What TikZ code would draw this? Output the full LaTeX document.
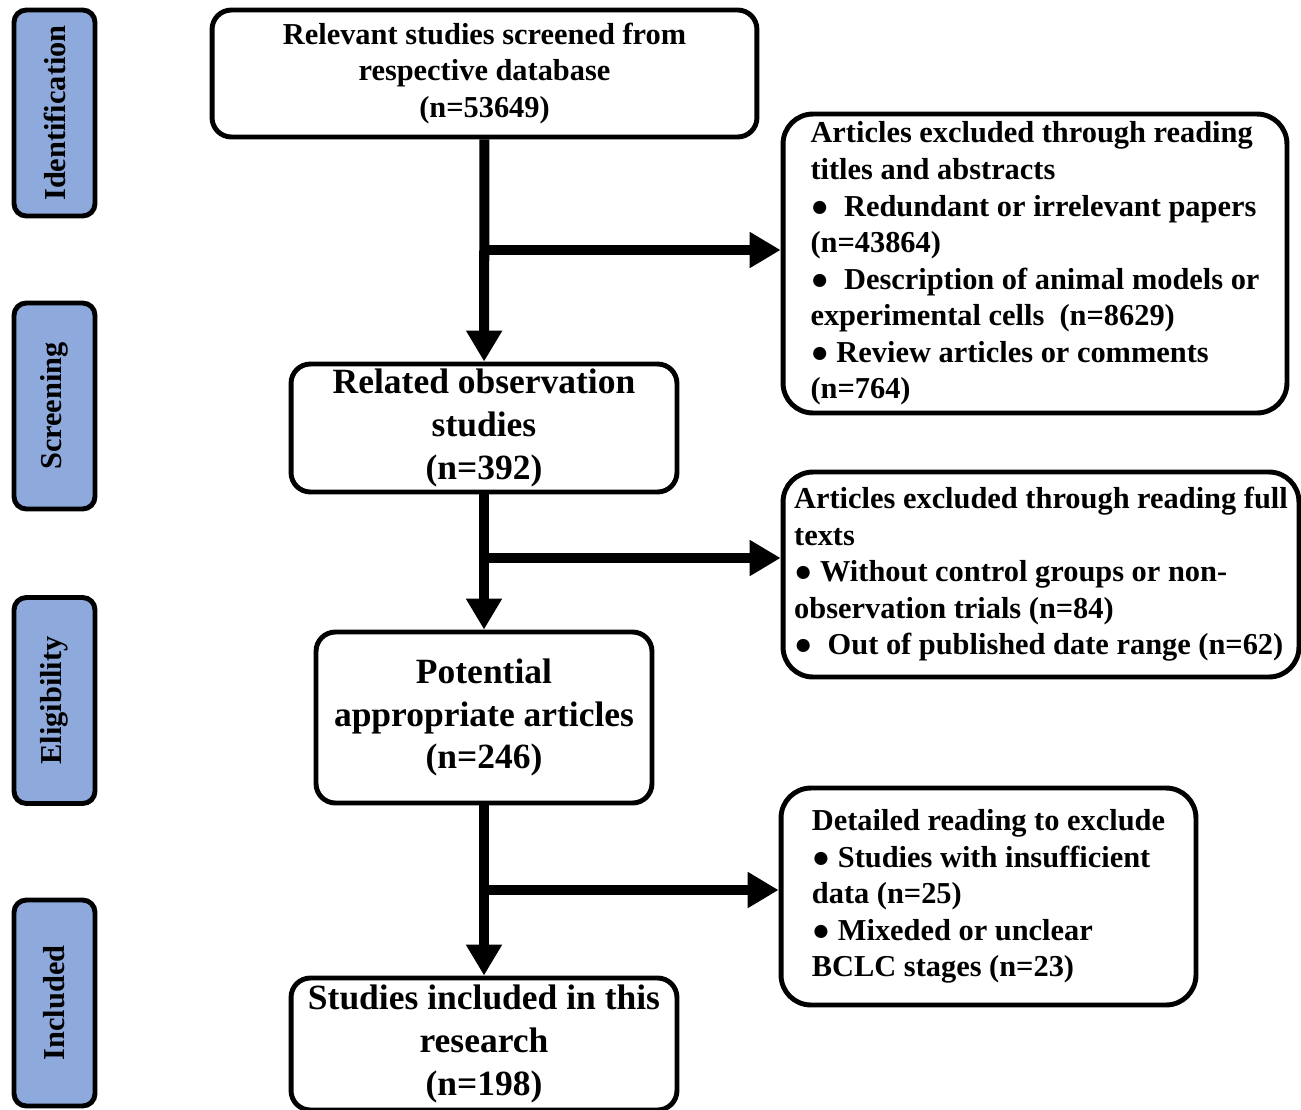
\documentclass[tikz,border=0pt]{standalone}
\usepackage{fontspec}
\setmainfont{Liberation Serif}
\usetikzlibrary{arrows.meta}
\definecolor{stageblue}{RGB}{142,169,219}

\begin{document}
\begin{tikzpicture}[x=0.02cm, y=-0.02cm,
    stage/.style={draw, fill=stageblue, line width=2.8pt, rounded corners=7pt,
      rotate=90, minimum width=4.12cm, minimum height=1.62cm, inner sep=0pt,
      font=\fontsize{17.3}{21}\selectfont\bfseries},
    mainbox/.style={draw, line width=2.8pt, rounded corners=11pt, align=center,
      inner sep=0pt, font=\fontsize{20.2}{24.4}\selectfont\bfseries},
    exbox/.style={draw, line width=2.8pt, rounded corners=17pt, align=left,
      inner sep=0pt, font=\fontsize{17.3}{20.8}\selectfont\bfseries},
    flow/.style={line width=5.7pt, -{Triangle[length=17.6pt,width=19.4pt]}}]
  \useasboundingbox (0,0) rectangle (1301,1109);
  % stages on the left
  \draw
    (54.5,113) node[stage] (sId) {Identification}
    (54.5,406) node[stage] (sSc) {Screening}
    (54.5,700.5) node[stage] (sEl) {Eligibility}
    (54.5,1003) node[stage] (sIn) {Included};
  % main flow
  \draw
    (484.5,73.5) node[mainbox, minimum width=10.9cm, minimum height=2.54cm,
      font=\fontsize{17.3}{21}\selectfont\bfseries] (screened)
      {Relevant studies screened from\\respective database\\(n=53649)}
    (484,428) node[mainbox, minimum width=7.72cm, minimum height=2.56cm] (related)
      {Related observation\\studies\\(n=392)}
    (484,717.5) node[mainbox, minimum width=6.72cm, minimum height=3.42cm] (potential)
      {Potential\\appropriate articles\\(n=246)}
    (484,1044) node[mainbox, minimum width=7.72cm, minimum height=2.64cm] (included)
      {Studies included in this\\research\\(n=198)};
  % excluded records
  \draw
    (1035,263.5) node[exbox, minimum width=10.08cm, minimum height=5.98cm] (ex1)
      {Articles excluded through reading\\titles and abstracts\\
       ● \ Redundant or irrelevant papers\\(n=43864)\\
       ● \ Description of animal models or\\experimental cells \ (n=8629)\\
       ● Review articles or comments\\(n=764)}
    (1041,574.5) node[exbox, minimum width=10.32cm, minimum height=4.1cm] (ex2)
      {Articles excluded through reading full\\texts\\
       ● Without control groups or non-\\observation trials (n=84)\\
       ● \ Out of published date range (n=62)}
    (988.5,896.5) node[exbox, minimum width=8.3cm, minimum height=4.34cm] (ex3)
      {Detailed reading to exclude\\
       ● Studies with insufficient\\data (n=25)\\
       ● Mixeded or unclear\\BCLC stages (n=23)};
  \coordinate (b1) at (485,250);
  \coordinate (b2) at (485,558);
  \coordinate (b3) at (485,890);
  \begin{scope}[flow]
    \draw (screened) to (related);
    \draw (related) to (potential);
    \draw (potential) to (included);
    \draw (b1) to (b1 -| ex1.west);
    \draw (b2) to (b2 -| ex2.west);
    \draw (b3) to (b3 -| ex3.west);
  \end{scope}
\end{tikzpicture}
\end{document}
